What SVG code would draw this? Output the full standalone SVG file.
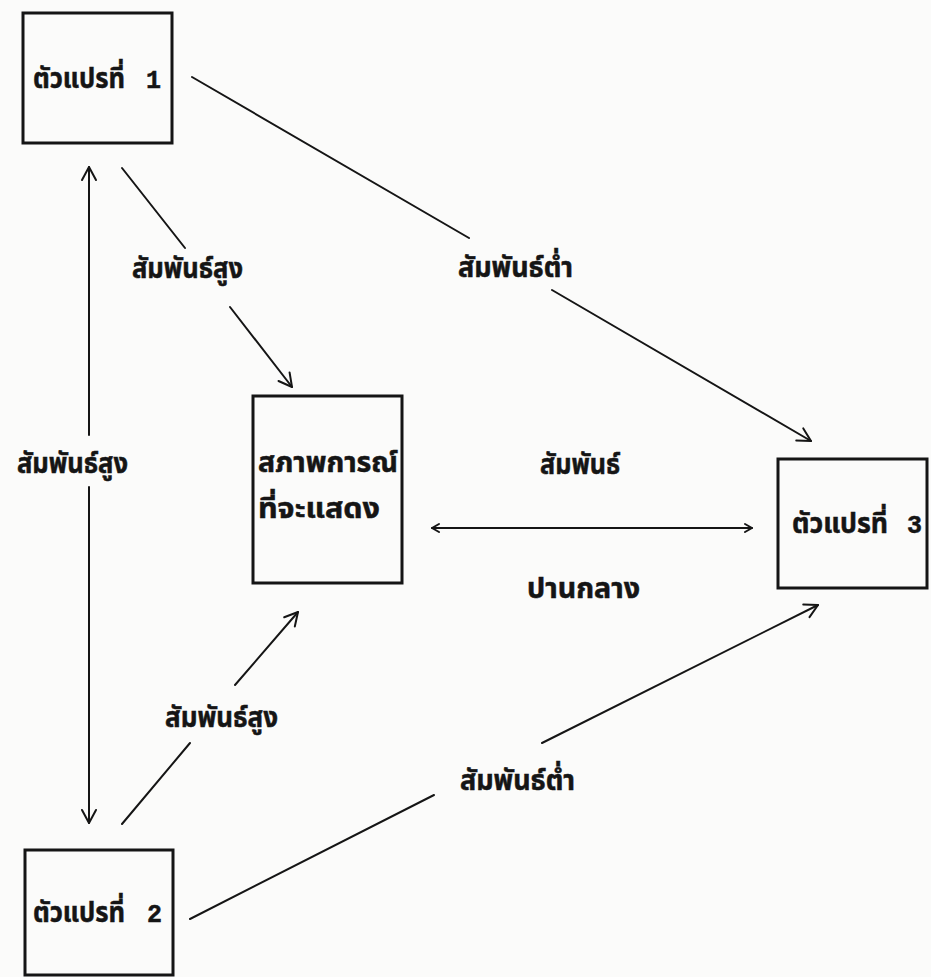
<svg xmlns="http://www.w3.org/2000/svg" width="931" height="977" viewBox="0 0 931 977">
  <style>
    .box { fill: none; stroke: #151515; stroke-width: 3; }
    .ln { stroke: #151515; stroke-width: 2; fill: none; stroke-linecap: round; }
    .th { font-family: "Noto Sans Thai", "Noto Sans", "DejaVu Sans", sans-serif; font-weight: bold; font-size: 28px; fill: #151515; stroke: #151515; stroke-width: 0.5; }
    .num { font-family: "Liberation Mono", monospace; font-weight: bold; font-size: 25px; }
  </style>
  <defs>
    <marker id="ah" markerUnits="userSpaceOnUse" markerWidth="20" markerHeight="20" refX="16" refY="10" orient="auto-start-reverse" viewBox="0 0 20 20">
      <path d="M3,3 L16,10 L3,17" fill="none" stroke="#151515" stroke-width="2" stroke-linecap="round" stroke-linejoin="round"/>
    </marker>
    <marker id="ahs" markerUnits="userSpaceOnUse" markerWidth="12" markerHeight="12" refX="10" refY="6" orient="auto-start-reverse" viewBox="0 0 12 12">
      <path d="M3,2 L10,6 L3,10" fill="none" stroke="#151515" stroke-width="2" stroke-linecap="round" stroke-linejoin="round"/>
    </marker>
  </defs>
  <rect x="0" y="0" width="931" height="977" fill="#fbfbfa"/>

  <g id="connectors">
    <line class="ln" x1="89" y1="167" x2="89" y2="435" marker-start="url(#ah)"/>
    <line class="ln" x1="89" y1="487" x2="89" y2="823" marker-end="url(#ah)"/>
    <line class="ln" x1="122" y1="168" x2="185" y2="248"/>
    <line class="ln" x1="230" y1="307" x2="292" y2="387" marker-end="url(#ah)"/>
    <line class="ln" x1="192" y1="77" x2="469" y2="238"/>
    <line class="ln" x1="552" y1="290" x2="811" y2="441" marker-end="url(#ah)"/>
    <line class="ln" x1="432" y1="528" x2="752" y2="528" marker-start="url(#ahs)" marker-end="url(#ahs)"/>
    <line class="ln" x1="122" y1="824" x2="190" y2="743"/>
    <line class="ln" x1="235" y1="685" x2="298" y2="612" marker-end="url(#ah)"/>
    <line class="ln" x1="190" y1="919" x2="434" y2="795"/>
    <line class="ln" x1="542" y1="743" x2="818" y2="605" marker-end="url(#ah)"/>
  </g>

  <g id="labels">
    <text class="th" x="17" y="473" textLength="111" lengthAdjust="spacingAndGlyphs">สัมพันธ์สูง</text>
    <text class="th" x="132" y="278" textLength="111" lengthAdjust="spacingAndGlyphs">สัมพันธ์สูง</text>
    <text class="th" x="165" y="727" textLength="113" lengthAdjust="spacingAndGlyphs">สัมพันธ์สูง</text>
    <text class="th" x="458" y="277" textLength="115" lengthAdjust="spacingAndGlyphs">สัมพันธ์ต่ำ</text>
    <text class="th" x="460" y="790" textLength="115" lengthAdjust="spacingAndGlyphs">สัมพันธ์ต่ำ</text>
    <text class="th" x="540" y="474" textLength="80" lengthAdjust="spacingAndGlyphs">สัมพันธ์</text>
    <text class="th" x="527" y="598" textLength="113" lengthAdjust="spacingAndGlyphs">ปานกลาง</text>
  </g>

  <g id="var1">
    <rect class="box" x="23" y="13" width="149" height="130"/>
    <text class="th" x="33" y="88"><tspan textLength="92" lengthAdjust="spacingAndGlyphs">ตัวแปรที่</tspan><tspan class="num" x="131"> 1</tspan></text>
  </g>

  <g id="situation">
    <rect class="box" x="253" y="396" width="149" height="187"/>
    <text class="th" x="258" y="472" textLength="140" lengthAdjust="spacingAndGlyphs">สภาพการณ์</text>
    <text class="th" x="258" y="518" textLength="122" lengthAdjust="spacingAndGlyphs">ที่จะแสดง</text>
  </g>

  <g id="var3">
    <rect class="box" x="778" y="459" width="149" height="129"/>
    <text class="th" x="792" y="533"><tspan textLength="96" lengthAdjust="spacingAndGlyphs">ตัวแปรที่</tspan><tspan class="num" x="892"> 3</tspan></text>
  </g>

  <g id="var2">
    <rect class="box" x="25" y="850" width="148" height="125"/>
    <text class="th" x="33" y="922"><tspan textLength="92" lengthAdjust="spacingAndGlyphs">ตัวแปรที่</tspan><tspan class="num" x="132"> 2</tspan></text>
  </g>
</svg>
